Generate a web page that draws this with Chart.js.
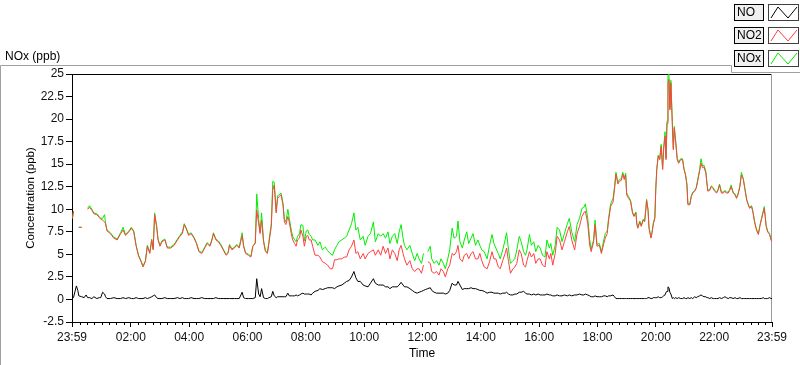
<!DOCTYPE html>
<html>
<head>
<meta charset="utf-8">
<script src="https://cdn.jsdelivr.net/npm/chart.js@4"></script>
<style>
    html, body { margin: 0; background: #fff; }
    #wrap { width: 800px; height: 365px; }
</style>
</head>
<body>
<div id="wrap"><canvas id="noxChart" width="800" height="365"></canvas></div>
<script>
// minutes after midnight (the axis starts at 23:59 of the previous day = -1)
const times = [
    0, 2, 8, 11, 13, 19, 24, 28, 31, 35,
    40, 44, 50, 55, 58, 62, 66, 68, 71, 78,
    85, 92, 99, 104, 109, 116, 121, 126, 131, 136,
    141, 145, 150, 154, 159, 163, 166, 169, 173, 176,
    180, 184, 190, 195, 202, 209, 216, 221, 226, 230,
    235, 239, 244, 250, 255, 260, 266, 272, 277, 283,
    287, 290, 295, 300, 305, 310, 316, 320, 323, 328,
    333, 338, 343, 349, 352, 356, 362, 367, 371, 376,
    379, 383, 386, 389, 393, 397, 401, 404, 409, 412,
    415, 419, 422, 425, 429, 433, 436, 439, 443, 446,
    450, 453, 457, 460, 463, 467, 470, 474, 477, 481,
    484, 487, 491, 494, 499, 505, 509, 514, 520, 525,
    530, 535, 539, 544, 548, 554, 559, 564, 569, 574,
    579, 583, 587, 592, 598, 602, 608, 613, 619, 623,
    629, 634, 639, 644, 649, 653, 658, 663, 668, 672,
    676, 680, 683, 688, 694, 699, 704, 709, 713, 718,
    722, 726, 731, 736, 739, 744, 749, 754, 758, 763,
    767, 772, 776, 781, 785, 790, 793, 797, 802, 806,
    811, 815, 820, 824, 829, 834, 838, 842, 847, 853,
    858, 863, 867, 871, 876, 880, 885, 890, 893, 897,
    901, 906, 910, 914, 919, 923, 928, 932, 935, 940,
    944, 949, 953, 958, 962, 967, 972, 976, 981, 984,
    988, 993, 997, 1002, 1007, 1012, 1018, 1022, 1027, 1033,
    1038, 1043, 1048, 1052, 1055, 1060, 1064, 1067, 1072, 1075,
    1079, 1084, 1088, 1093, 1096, 1100, 1103, 1107, 1112, 1115,
    1118, 1122, 1125, 1129, 1132, 1135, 1138, 1140, 1144, 1148,
    1152, 1155, 1159, 1161, 1163, 1167, 1170, 1174, 1177, 1179,
    1181, 1184, 1186, 1190, 1192, 1195, 1198, 1200, 1202, 1205,
    1208, 1211, 1214, 1216, 1219, 1221, 1223, 1225, 1227, 1229,
    1231, 1234, 1236, 1238, 1241, 1244, 1247, 1251, 1255, 1258,
    1261, 1264, 1266, 1270, 1273, 1276, 1280, 1283, 1286, 1290,
    1293, 1296, 1299, 1303, 1305, 1307, 1311, 1314, 1318, 1321,
    1325, 1328, 1331, 1335, 1339, 1342, 1345, 1349, 1352, 1355,
    1359, 1363, 1366, 1369, 1373, 1376, 1380, 1383, 1387, 1390,
    1393, 1397, 1400, 1403, 1407, 1411, 1414, 1417, 1421, 1423,
    1425, 1427, 1430, 1434, 1437, 1439
];

const no = [
    0.1, 0.2, 1.5, 1.0, 0.4, 0.3, 0.2, 0.5, 0.2, 0.2,
    0.1, 0.3, 0.1, 0.2, 0.2, 0.8, 0.6, 0.3, 0.1, 0.1,
    0.2, 0.1, 0.1, 0.2, 0.1, 0.2, 0.1, 0.1, 0.2, 0.1,
    0.1, 0.1, 0.2, 0.1, 0.2, 0.3, 0.4, 0.5, 0.2, 0.1,
    0.1, 0.1, 0.2, 0.1, 0.1, 0.1, 0.2, 0.1, 0.2, 0.1,
    0.1, 0.1, 0.2, 0.1, 0.1, 0.1, 0.2, 0.1, 0.1, 0.1,
    0.1, 0.1, 0.2, 0.1, 0.1, 0.1, 0.1, 0.1, 0.1, 0.1,
    0.1, 0.1, 0.1, 0.8, 0.2, 0.1, 0.1, 0.1, 0.1, 0.2,
    2.3, 0.6, 0.3, 1.2, 0.2, 0.1, 0.1, 0.2, 0.3, 0.9,
    0.4, 0.2, 0.3, 0.3, 0.3, 0.3, 0.3, 0.3, 0.7, 0.4,
    0.4, 0.4, 0.4, 0.5, 0.4, 0.5, 0.6, 0.7, 0.6, 0.6,
    0.6, 0.6, 0.5, 0.7, 0.9, 1.0, 1.2, 1.1, 1.2, 1.3,
    1.3, 1.3, 1.2, 1.4, 1.5, 1.6, 1.8, 2.0, 2.1, 2.5,
    3.1, 2.4, 2.0, 2.0, 1.6, 1.5, 1.4, 1.8, 2.3, 1.8,
    1.6, 1.6, 1.6, 1.4, 1.4, 1.2, 1.4, 1.4, 1.4, 1.6,
    1.9, 1.6, 1.4, 1.4, 1.2, 1.0, 0.8, 0.7, 0.8, 0.9,
    1.0, 1.1, 1.2, 1.3, 1.0, 0.8, 0.7, 0.7, 0.7, 0.7,
    0.6, 0.7, 1.0, 1.8, 1.6, 1.6, 2.0, 1.6, 1.1, 1.2,
    1.2, 1.2, 1.3, 1.2, 1.2, 1.1, 1.0, 1.0, 0.9, 0.7,
    0.8, 0.8, 0.7, 0.7, 0.7, 0.6, 0.7, 0.7, 0.8, 0.6,
    0.5, 0.5, 0.6, 0.6, 0.8, 0.8, 0.9, 0.7, 0.6, 0.6,
    0.5, 0.6, 0.5, 0.6, 0.5, 0.5, 0.5, 0.6, 0.5, 0.5,
    0.4, 0.4, 0.5, 0.4, 0.4, 0.5, 0.4, 0.5, 0.4, 0.5,
    0.5, 0.6, 0.5, 0.5, 0.6, 0.5, 0.4, 0.3, 0.3, 0.4,
    0.3, 0.3, 0.3, 0.4, 0.4, 0.3, 0.4, 0.4, 0.5, 0.3,
    0.1, 0.1, 0.1, 0.1, 0.1, 0.1, 0.1, 0.1, 0.1, 0.1,
    0.1, 0.1, 0.1, 0.1, 0.1, 0.1, 0.1, 0.1, 0.1, 0.1,
    0.1, 0.2, 0.2, 0.1, 0.1, 0.2, 0.2, 0.2, 0.2, 0.3,
    0.2, 0.2, 0.3, 0.4, 0.5, 0.8, 0.9, 1.4, 1.3, 0.8,
    0.6, 0.1, 0.2, 0.1, 0.2, 0.1, 0.2, 0.1, 0.1, 0.2,
    0.1, 0.1, 0.2, 0.1, 0.2, 0.1, 0.3, 0.2, 0.3, 0.4,
    0.5, 0.4, 0.3, 0.3, 0.2, 0.2, 0.1, 0.2, 0.1, 0.1,
    0.1, 0.1, 0.2, 0.1, 0.2, 0.3, 0.2, 0.1, 0.2, 0.2,
    0.1, 0.2, 0.1, 0.1, 0.2, 0.1, 0.1, 0.1, 0.1, 0.1,
    0.1, 0.1, 0.1, 0.1, 0.1, 0.1, 0.1, 0.1, 0.2, 0.1,
    0.1, 0.1, 0.1, 0.2, 0.1, 0.1
];

const no2 = [
    9.0, 9.8, null, null, 8.0, 8.0, null, null, 10.0, 10.2,
    9.9, 9.5, 9.4, 9.1, 8.9, 8.8, 8.6, 8.4, 7.6, 7.3,
    6.8, 6.6, 7.3, 7.7, 7.1, 7.5, 7.9, 7.5, 5.9, 4.8,
    4.2, 3.6, 4.2, 5.9, 5.1, 6.6, 5.5, 9.4, 8.1, 6.6,
    5.9, 6.4, 6.6, 5.7, 5.7, 6.0, 6.6, 7.0, 7.3, 8.3,
    7.7, 7.1, 7.3, 6.8, 6.2, 5.3, 5.1, 5.7, 6.2, 5.9,
    6.6, 7.3, 6.6, 6.4, 6.0, 5.5, 4.9, 5.1, 6.0, 5.5,
    5.7, 6.0, 5.7, 7.1, 5.9, 5.1, 4.9, 4.7, 5.9, 6.2,
    9.9, 8.4, 7.3, 8.8, 6.4, 5.3, 5.1, 6.2, 8.1, 12.1,
    12.7, 9.6, 11.2, 11.4, 11.6, 10.5, 8.6, 8.3, 9.2, 8.6,
    7.3, 6.6, 6.2, 5.9, 6.6, 6.8, 7.7, 7.0, 5.9, 7.0,
    7.1, 6.6, 6.6, 5.9, 4.9, 4.9, 4.7, 4.2, 4.0, 3.8,
    3.4, 3.4, 4.4, 4.4, 4.5, 4.5, 4.7, 4.7, 5.5, 5.9,
    6.6, 5.1, 5.3, 4.5, 5.1, 4.5, 5.1, 5.3, 5.5, 4.9,
    5.5, 4.9, 5.9, 5.1, 5.7, 4.5, 5.5, 5.1, 4.3, 5.5,
    6.0, 5.1, 4.5, 3.8, 4.3, 3.4, 3.1, 3.4, 3.4, 2.9,
    3.8, null, 4.2, 4.0, 3.1, 2.9, 3.1, 2.7, 3.4, 3.1,
    2.5, 3.4, 3.8, 5.1, 4.9, 5.3, 6.0, 4.5, 4.2, 4.9,
    5.1, 4.5, 5.1, 5.3, 4.5, 4.5, 5.1, 4.3, 3.6, 3.4,
    4.2, 5.3, 4.5, 4.5, 3.6, 3.4, 4.3, 5.1, 5.7, 4.2,
    2.9, 3.4, 3.6, 4.0, 5.5, 5.1, 3.8, 3.6, 4.3, 5.3,
    4.7, 5.1, 4.0, 4.5, 4.5, 3.8, 3.6, 5.3, 4.5, 5.1,
    3.8, 5.1, 7.0, 6.6, 5.5, 6.4, 7.5, 8.1, 6.6, 5.5,
    7.3, 8.1, 9.2, 9.6, 9.8, 8.4, 6.0, 5.3, 6.4, 8.3,
    5.9, 6.0, 5.1, 6.2, 6.8, 7.3, 8.8, 10.3, 10.8, 12.2,
    13.9, 12.8, 13.1, 13.2, 13.9, 13.3, 13.8, 11.6, 11.2, 10.9,
    9.6, 9.2, 9.6, 8.3, 7.9, 8.6, 8.1, 8.8, 8.6, 9.7,
    11.0, 9.9, 7.9, 6.8, 7.3, 8.4, 9.0, 12.3, 14.4, 15.9,
    15.5, 17.0, 14.4, 16.6, 18.1, 15.5, 19.5, 24.0, 24.4, 21.0,
    24.0, 19.2, 16.6, 19.0, 17.3, 15.5, 15.1, 15.5, 15.5, 14.4,
    13.8, 12.7, 10.5, 10.5, 11.4, 11.8, 12.0, 12.3, 13.1, 14.2,
    15.1, 14.6, 14.7, 14.0, 12.9, 12.0, 12.1, 12.5, 12.3, 12.0,
    11.8, 12.1, 12.7, 11.8, 11.8, 12.0, 11.8, 11.8, 12.1, 12.5,
    11.8, 11.6, 11.2, 11.6, 12.5, 13.8, 13.3, 12.3, 11.0, 10.5,
    10.1, 10.3, 9.6, 8.6, 7.7, 7.2, 8.1, 8.8, 9.7, 10.1,
    9.2, 8.1, 7.5, 7.2, 6.6, 6.4
];

const nox = [
    9.0, 9.8, null, null, 8.0, 8.0, null, null, 10.1, 10.4,
    10.0, 9.6, 9.5, 9.2, 9.0, 9.0, 9.4, 8.5, 7.7, 7.4,
    6.9, 6.7, 7.4, 8.0, 7.2, 7.6, 8.0, 7.6, 6.0, 4.9,
    4.3, 3.7, 4.3, 6.0, 5.2, 6.7, 5.6, 9.6, 8.2, 6.7,
    6.0, 6.5, 6.7, 5.8, 5.8, 6.1, 6.7, 7.1, 7.5, 8.4,
    7.8, 7.2, 7.4, 6.9, 6.3, 5.4, 5.2, 5.8, 6.3, 6.0,
    6.7, 7.4, 6.7, 6.5, 6.1, 5.6, 5.0, 5.2, 6.1, 5.6,
    5.8, 6.1, 5.8, 7.4, 6.0, 5.2, 5.0, 4.8, 5.9, 6.3,
    11.7, 8.9, 7.5, 9.6, 6.6, 5.4, 5.2, 6.4, 8.4, 13.1,
    13.0, 9.8, 11.5, 11.6, 11.8, 10.7, 8.9, 8.6, 10.0, 9.0,
    7.7, 7.0, 6.6, 6.4, 7.0, 7.3, 8.3, 8.2, 6.5, 7.6,
    7.7, 7.2, 7.0, 6.6, 6.6, 6.0, 6.4, 5.5, 5.8, 5.4,
    5.1, 4.9, 5.5, 6.0, 6.4, 6.6, 6.8, 7.0, 7.7, 8.4,
    9.6, 7.7, 8.0, 6.6, 7.0, 6.0, 7.0, 7.3, 8.6, 6.4,
    7.3, 7.0, 7.3, 6.8, 7.5, 6.2, 7.0, 7.3, 6.2, 7.5,
    8.3, 6.8, 6.0, 5.5, 6.0, 5.1, 4.3, 5.1, 4.5, 4.0,
    5.1, null, 5.3, 5.9, 4.5, 4.0, 4.3, 3.8, 4.5, 4.0,
    3.4, 4.5, 5.5, 7.9, 6.8, 7.0, 8.7, 6.4, 5.7, 6.6,
    7.5, 6.2, 6.8, 7.3, 6.0, 6.6, 6.0, 5.5, 5.3, 4.5,
    6.0, 7.2, 6.2, 5.7, 5.1, 4.5, 5.5, 6.6, 7.4, 5.5,
    4.0, 4.3, 4.5, 5.5, 7.0, 6.4, 5.3, 4.9, 5.5, 7.2,
    6.0, 6.4, 5.3, 6.0, 5.7, 4.9, 4.7, 6.6, 5.7, 6.2,
    4.9, 6.0, 8.0, 7.7, 6.4, 7.3, 8.4, 9.0, 7.5, 6.4,
    8.3, 9.0, 10.1, 10.2, 10.6, 9.0, 6.6, 5.6, 6.6, 8.8,
    6.1, 6.2, 5.3, 6.6, 7.3, 7.6, 9.1, 10.6, 11.2, 12.5,
    14.1, 13.0, 13.3, 13.4, 14.1, 13.5, 14.0, 11.8, 11.4, 11.0,
    9.7, 9.3, 9.7, 8.4, 8.0, 8.7, 8.2, 8.9, 8.7, 9.8,
    11.1, 10.0, 8.0, 6.9, 7.4, 8.5, 9.1, 12.4, 14.5, 16.0,
    15.6, 17.2, 14.5, 16.8, 18.6, 15.7, 19.8, 24.8, 25.0, 21.2,
    24.3, 19.7, 16.8, 19.2, 17.5, 15.7, 15.2, 15.6, 15.6, 14.5,
    13.9, 12.8, 10.6, 10.6, 11.5, 11.9, 12.1, 12.4, 13.2, 14.4,
    15.6, 14.8, 14.9, 14.2, 13.0, 12.1, 12.2, 12.6, 12.4, 12.1,
    11.9, 12.2, 12.8, 11.9, 11.9, 12.1, 11.9, 11.9, 12.2, 12.7,
    11.9, 11.7, 11.3, 11.7, 12.6, 14.1, 13.4, 12.4, 11.1, 10.6,
    10.2, 10.4, 9.7, 8.7, 7.8, 7.3, 8.2, 8.9, 9.8, 10.3,
    9.3, 8.2, 7.6, 7.3, 6.7, 6.5
];

const seriesNames = ['NO', 'NO2', 'NOx'];
const seriesColors = ['#000000', '#ff4040', '#00ee00'];

const tickMinutes = [-1, 120, 240, 360, 480, 600, 720, 840, 960, 1080, 1200, 1320, 1439];
const tickLabels = ['23:59', '02:00', '04:00', '06:00', '08:00', '10:00', '12:00',
    '14:00', '16:00', '18:00', '20:00', '22:00', '23:59'];

const yTicks = { min: -2.5, max: 25, step: 2.5 };

const FONT = '"Liberation Sans", Arial, sans-serif';

// minor x ticks every 15 minutes between the labelled ones
const minorMinutes = [];
for (let m = 15; m < 1439; m += 15) {
    if (m % 120 !== 0) minorMinutes.push(m);
}

const framePlugin = {
    id: 'frame',
    beforeDraw(chart) {
        const ctx = chart.ctx;
        ctx.save();
        ctx.strokeStyle = '#a0a0a0';
        ctx.lineWidth = 1;
        ctx.beginPath();
        ctx.moveTo(0.5, 365);
        ctx.lineTo(0.5, 65.5);
        ctx.lineTo(731.5, 65.5);
        ctx.lineTo(731.5, 72.5);
        ctx.lineTo(800, 72.5);
        ctx.stroke();

        ctx.fillStyle = '#000';
        ctx.font = '12px ' + FONT;
        ctx.textBaseline = 'middle';
        ctx.fillText('NOx (ppb)', 5, 57);
        ctx.restore();
    },
    beforeDatasetsDraw(chart) {
        const { ctx, chartArea: a } = chart;
        ctx.save();
        ctx.lineWidth = 1;
        ctx.strokeStyle = '#000';
        ctx.beginPath();
        ctx.moveTo(a.left, Math.round(a.top) + 0.5);
        ctx.lineTo(a.right, Math.round(a.top) + 0.5);
        ctx.stroke();
        ctx.strokeStyle = '#9a9a9a';
        ctx.beginPath();
        ctx.moveTo(Math.round(a.right) - 0.5, a.top);
        ctx.lineTo(Math.round(a.right) - 0.5, a.bottom);
        ctx.stroke();
        ctx.restore();
    },
    afterDraw(chart) {
        const { ctx, chartArea: a, scales } = chart;
        ctx.save();
        ctx.strokeStyle = '#000';
        ctx.lineWidth = 1;
        ctx.beginPath();
        minorMinutes.forEach((m) => {
            const px = Math.round(scales.x.getPixelForValue(m)) + 0.5;
            ctx.moveTo(px, a.bottom);
            ctx.lineTo(px, a.bottom + 3);
        });
        ctx.stroke();

        // legend boxes, top right
        chart.data.datasets.forEach((ds, i) => {
            const top = 4 + i * 23;
            ctx.fillStyle = '#f0f0f0';
            ctx.fillRect(734, top, 30, 17);
            ctx.strokeStyle = '#000';
            ctx.strokeRect(734.5, top + 0.5, 29, 16);
            ctx.fillStyle = '#000';
            ctx.font = '12px ' + FONT;
            ctx.textBaseline = 'middle';
            ctx.fillText(ds.label, 737, top + 9);

            ctx.fillStyle = '#fff';
            ctx.fillRect(768, top, 31, 17);
            ctx.strokeStyle = '#404040';
            ctx.strokeRect(768.5, top + 0.5, 30, 16);
            ctx.strokeStyle = ds.borderColor;
            ctx.beginPath();
            ctx.moveTo(771, top + 14);
            ctx.lineTo(778, top + 3);
            ctx.lineTo(788, top + 14);
            ctx.lineTo(797, top + 3);
            ctx.stroke();
        });
        ctx.restore();
    }
};

const seriesValues = [no, no2, nox];

new Chart(document.getElementById('noxChart'), {
    type: 'line',
    data: {
        datasets: seriesNames.map((name, i) => ({
            label: name,
            data: times.map((t, k) => ({ x: t, y: seriesValues[i][k] })),
            borderColor: seriesColors[i],
            borderWidth: 1,
            pointRadius: 0,
            tension: 0,
            spanGaps: false,
            order: i,
        })),
    },
    options: {
        responsive: false,
        animation: false,
        layout: { padding: { left: 0, top: 74, right: 28, bottom: 0 } },
        plugins: { legend: { display: false }, tooltip: { enabled: false } },
        scales: {
            x: {
                type: 'linear',
                min: tickMinutes[0],
                max: tickMinutes[tickMinutes.length - 1],
                afterFit: (scale) => { scale.height = 43; },
                afterBuildTicks: (scale) => { scale.ticks = tickMinutes.map((v) => ({ value: v })); },
                grid: { drawOnChartArea: false, tickLength: 5, color: '#000' },
                border: { color: '#000' },
                ticks: {
                    autoSkip: false, maxRotation: 0, minRotation: 0, padding: 3,
                    color: '#111', font: { family: FONT, size: 12 },
                    callback: (value, index) => tickLabels[index],
                },
                title: { display: true, text: 'Time', color: '#000', font: { family: FONT, size: 12 }, padding: { top: 0, bottom: 4 } },
            },
            y: {
                min: yTicks.min,
                max: yTicks.max,
                afterFit: (scale) => { scale.width = 72; },
                grid: { drawOnChartArea: false, tickLength: 6, color: '#000' },
                border: { color: '#000' },
                ticks: { stepSize: yTicks.step, padding: 2, color: '#111', font: { family: FONT, size: 12 } },
                title: { display: true, text: 'Concentration (ppb)', color: '#000', font: { family: FONT, size: 11.5 }, padding: { top: 24, bottom: 0 } },
            },
        },
    },
    plugins: [framePlugin],
});
</script>
</body>
</html>
